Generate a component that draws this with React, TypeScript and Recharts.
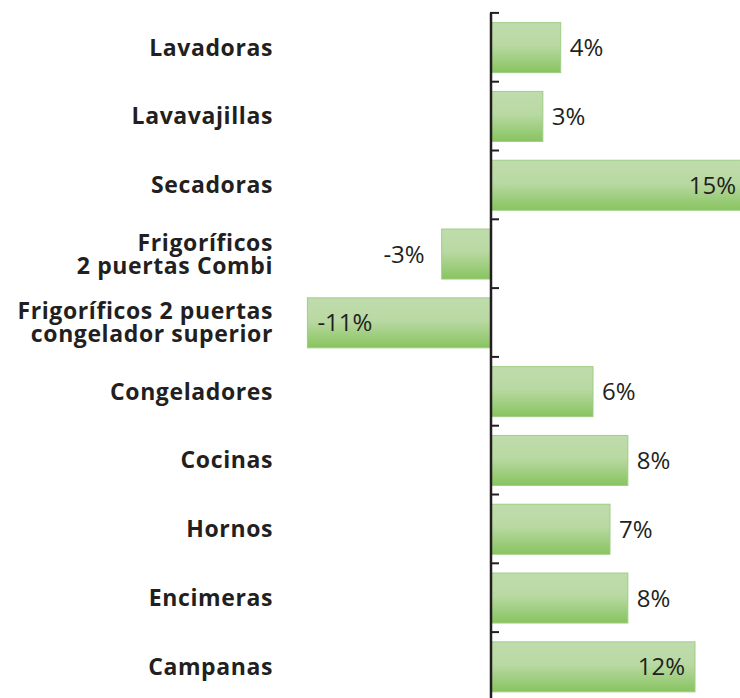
import React from "react";
import { BarChart, Bar, XAxis, YAxis, ReferenceLine, LabelList } from "recharts";

// categorías (el salto de línea parte la etiqueta en dos)
const categories = [
  "Lavadoras",
  "Lavavajillas",
  "Secadoras",
  "Frigoríficos\n2 puertas Combi",
  "Frigoríficos 2 puertas\ncongelador superior",
  "Congeladores",
  "Cocinas",
  "Hornos",
  "Encimeras",
  "Campanas",
];
// variación en %
const values = [4.1, 3.05, 15, -2.9, -10.8, 6.0, 8.05, 7.0, 8.05, 12.0];

const data = categories.map((name, i) => ({ name, value: values[i] }));

const TEXT = "#231f20";
const FONT = "'Open Sans', sans-serif";
const GAP = 0.14; // barCategoryGap como fracción de la banda

const CategoryTick = (props: any) => {
  const { x, y, payload } = props;
  const lines: string[] = String(payload.value).split("\n");
  const lh = 23;
  return (
    <text
      x={x}
      y={y}
      textAnchor="end"
      fill={TEXT}
      fontFamily={FONT}
      fontWeight={700}
      fontSize={23}
      letterSpacing={0.6}
    >
      {lines.map((l, i) => (
        <tspan key={i} x={x} y={y + (i - (lines.length - 1) / 2) * lh} dy="0.36em">
          {l}
        </tspan>
      ))}
    </text>
  );
};

// barra con degradado + marca del eje en el borde superior de su banda
const BarShape = (props: any) => {
  const { x, y, width, height, payload } = props;
  const left = Math.min(x, x + width);
  const w = Math.abs(width);
  const zero = payload.value >= 0 ? left : left + w;
  const bandTop = y - (height * GAP) / (1 - 2 * GAP);
  return (
    <g>
      <rect
        x={left}
        y={y}
        width={w}
        height={height}
        fill="url(#verde)"
        stroke="#9fcd86"
        strokeWidth={1}
      />
      <line
        x1={zero - 1}
        x2={zero + 8}
        y1={bandTop}
        y2={bandTop}
        stroke={TEXT}
        strokeWidth={2}
      />
    </g>
  );
};

const ValueLabel = (props: any) => {
  const { x, y, width, height, value } = props;
  const left = Math.min(x, x + width);
  const right = Math.max(x, x + width);
  const cy = y + height / 2;
  const big = Math.abs(value) >= 10;
  let tx: number;
  let anchor: "start" | "end";
  if (value >= 0) {
    tx = big ? right - 10 : right + 9;
    anchor = big ? "end" : "start";
  } else {
    tx = big ? left + 10 : left - 17;
    anchor = big ? "start" : "end";
  }
  return (
    <text
      x={tx}
      y={cy}
      dy="0.36em"
      textAnchor={anchor}
      fill={TEXT}
      fontFamily={FONT}
      fontSize={24}
    >
      {`${Math.round(value)}%`}
    </text>
  );
};

export default function App() {
  return (
    <div
      style={{
        position: "absolute",
        left: 0,
        top: 0,
        width: 740,
        height: 698,
        overflow: "hidden",
        background: "#fff",
      }}
    >
      <BarChart
        width={760}
        height={710}
        data={data}
        layout="vertical"
        margin={{ top: 13, right: 14, bottom: 9, left: 0 }}
        barCategoryGap={`${GAP * 100}%`}
      >
        <defs>
          <linearGradient id="verde" x1="0" y1="0" x2="0" y2="1">
            <stop offset="0%" stopColor="#bfdcac" />
            <stop offset="45%" stopColor="#b9d9a3" />
            <stop offset="100%" stopColor="#88c45f" />
          </linearGradient>
        </defs>
        <XAxis type="number" domain={[-11, 15]} hide />
        <YAxis
          type="category"
          dataKey="name"
          width={304}
          axisLine={false}
          tickLine={false}
          tickSize={0}
          tickMargin={31}
          interval={0}
          tick={<CategoryTick />}
        />
        <Bar dataKey="value" shape={<BarShape />} isAnimationActive={false}>
          <LabelList dataKey="value" content={<ValueLabel />} />
        </Bar>
        <ReferenceLine x={0} stroke={TEXT} strokeWidth={2.5} />
      </BarChart>
    </div>
  );
}
